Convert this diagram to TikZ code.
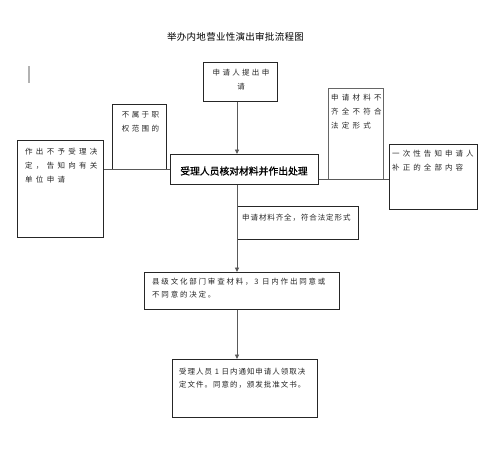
\documentclass[tikz,border=0pt]{standalone}
\usepackage{fontspec}
\setmainfont{Noto Sans CJK SC}
\newfontfamily\cjkbold[FakeBold=1.2]{Noto Sans CJK SC}
\usetikzlibrary{arrows.meta}
\newcommand\lsp[1]{\addfontfeatures{LetterSpace=#1}}
\begin{document}
\begin{tikzpicture}[x=1pt,y=-1pt,
  box/.style={draw=black!85, line width=0.7pt, inner sep=0pt, anchor=north west},
  conn/.style={draw=black!65, line width=0.9pt},
  arr/.style={conn, -{Triangle[length=4.5pt,width=4pt]}},
  txt/.style={inner sep=0pt, text=black!85},
  small/.style={font=\fontsize{7.5}{14}\selectfont\lsp{#1}}]
\fill[white] (0,0) rectangle (500,467);
\useasboundingbox (0,0) rectangle (500,467);

% title
\node[inner sep=0pt, font=\fontsize{9.5}{11}\selectfont\lsp{3}] (title) at (235.5,37) {举办内地营业性演出审批流程图};

% cursor mark
\draw[black!30, line width=1.2pt] (29,66) -- (29,83);

% boxes
\node[box, minimum width=74pt, minimum height=39pt] (app) at (203,62) {};
\node[box, minimum width=148pt, minimum height=30pt] (main) at (170,154) {};
\node[box, minimum width=54pt, minimum height=65pt] (outside) at (112,104) {};
\node[box, minimum width=86pt, minimum height=97pt] (reject) at (17,140) {};
\node[box, draw=black!60, minimum width=55pt, minimum height=91pt] (incomplete) at (328,88) {};
\node[box, minimum width=88pt, minimum height=65pt] (notify) at (389,144) {};
\node[box, minimum width=121pt, minimum height=33pt] (complete) at (237,206) {};
\node[box, minimum width=195pt, minimum height=37pt] (county) at (144,272) {};
\node[box, minimum width=145pt, minimum height=58pt] (final) at (172,359) {};

% connectors
\coordinate (spine) at (237,0);
\draw[arr] (app.south -| spine) -- (main.north -| spine);
\draw[conn] (main.west) -- (main.west -| reject.east);
\draw[conn] (main.east |- incomplete.south) -- (notify.west |- incomplete.south);
\draw[arr] (main.south -| spine) -- (county.north -| spine);
\draw[arr] (county.south -| spine) -- (final.north -| spine);

% texts
\node[txt, small=31, align=center, anchor=north] (apptxt) at (241,69.2) {申请人提出申\\请};
\node[txt, inner sep=0pt, text=black, font=\cjkbold\fontsize{9.8}{12}\selectfont] (maintxt) at (244,171) {受理人员核对材料并作出处理};
\node[txt, small=33, align=center, anchor=north] (outsidetxt) at (140.5,111.2) {不属于职\\权范围的};
\node[txt, small=44, align=left, anchor=north west] (rejecttxt) at (25,148.2) {作出不予受理决\\定，告知向有关\\单位申请};
\node[txt, small=43, align=left, anchor=north west] (incompletetxt) at (331,94.2) {申请材料不\\齐全不符合\\法定形式};
\node[txt, small=41, align=left, anchor=north west] (notifytxt) at (392,150.2) {一次性告知申请人\\补正的全部内容};
\node[txt, small=12, align=left, anchor=north west] (completetxt) at (242,214.2) {申请材料齐全，符合法定形式};
\node[txt, font=\fontsize{7.5}{12.6}\selectfont\lsp{24}, align=left, anchor=north west] (countytxt) at (152,278.2) {县级文化部门审查材料，3 日内作出同意或\\不同意的决定。};
\node[txt, font=\fontsize{7.5}{12.3}\selectfont\lsp{13}, align=left, anchor=north west] (finaltxt) at (179,368.2) {受理人员 1 日内通知申请人领取决\\定文件。同意的，颁发批准文书。};
\end{tikzpicture}
\end{document}
